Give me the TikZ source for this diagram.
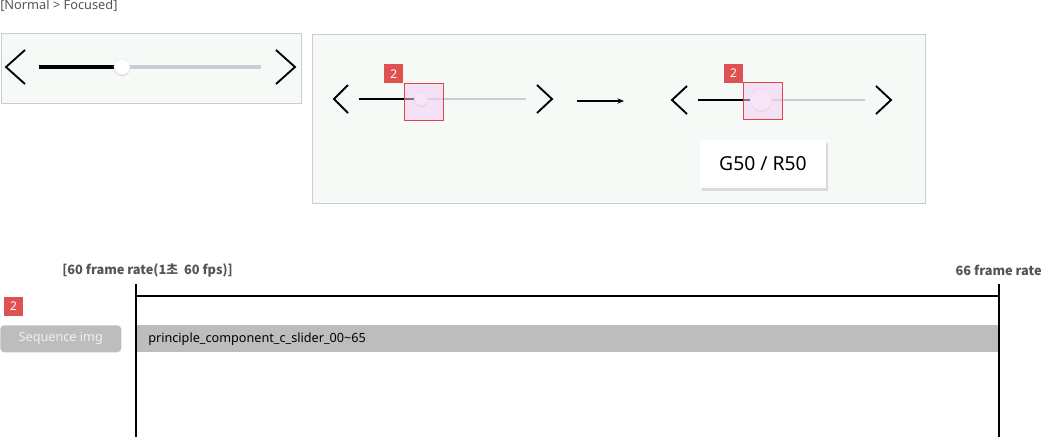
\documentclass[tikz,border=0pt]{standalone}
\usepackage{fontspec}
\setmainfont{Noto Sans}
\newfontfamily\krfont{Noto Sans CJK KR}
\usetikzlibrary{shadows,arrows.meta}
\definecolor{panelfill}{HTML}{F6FAF6}
\definecolor{panelline}{HTML}{CCCCCC}
\definecolor{badgered}{HTML}{E05252}
\definecolor{focusred}{HTML}{E0444C}
\definecolor{focusfill}{HTML}{F3CDF3}
\definecolor{trackgray}{HTML}{C6CED8}
\definecolor{bargray}{HTML}{BDBDBD}
\definecolor{labelgray}{HTML}{555555}
\tikzset{
  panel/.style={draw=panelline, fill=panelfill, line width=0.75pt},
  chev/.style={line width=1.4pt, black, line join=miter},
  trackon/.style={line width=2.2pt, black},
  trackoff/.style={line width=2.2pt, trackgray},
  knob/.style={fill=white, draw=black!8, line width=0.4pt, drop shadow={shadow xshift=0pt, shadow yshift=-0.8pt, opacity=0.3, fill=black!60}},
  focusbox/.style={draw=focusred, fill=focusfill, fill opacity=0.55, line width=0.75pt},
  badge/.style={fill=badgered, text=white, font=\fontsize{9}{10}\selectfont, inner sep=0pt, minimum width=14pt, minimum height=14pt},
  bartext/.style={font=\fontsize{9.5}{11}\selectfont},
  hdr/.style={font=\krfont\fontsize{9.6}{10}\selectfont\bfseries, text=labelgray, inner sep=0pt},
}
\begin{document}
\begin{tikzpicture}[x=0.75pt,y=-0.75pt]
\useasboundingbox (0,0) rectangle (1043,437);
% title
\node[anchor=west, inner sep=0pt, text=labelgray, font=\fontsize{9.6}{10}\selectfont] (title) at (0,6) {[Normal > Focused]};
% panel 1
\draw[panel] (1,33) rectangle (301,103);
\draw[chev] (25,50) -- (6,67) -- (25,84);
\draw[chev] (276,50) -- (295,67) -- (276,84);
\draw[trackoff, line width=2.4pt] (128,67) -- (261,67);
\draw[trackon, line width=2.6pt] (39,67) -- (116,67);
\node[knob, circle, minimum size=12pt, inner sep=0pt] (k1) at (122,67) {};
% panel 2
\draw[panel] (312,34) rectangle (925,203);
% slider A
\draw[chev] (348,85) -- (334,99) -- (348,113);
\draw[chev] (537,85) -- (552,99) -- (537,113);
\draw[trackoff] (426,99) -- (526,99);
\draw[trackon] (359,99) -- (416,99);
\node[knob, circle, minimum size=10pt, inner sep=0pt] (kA) at (421,99) {};
\draw[focusbox] (404,83) rectangle (443,120);
\node[badge, minimum width=14.25pt, minimum height=14.25pt, anchor=north west] (bA) at (384,64) {2};
% arrow
\coordinate (arS) at (577,101);
\coordinate (arE) at (624,101);
\draw[-{Stealth[length=5pt,width=4pt]}, line width=0.8pt] (arS) -- (arE);
% slider B
\draw[chev] (687,86) -- (672,100) -- (687,114);
\draw[chev] (876,86) -- (891,100) -- (876,114);
\draw[trackoff] (770,100) -- (865,100);
\draw[trackon] (698,100) -- (750,100);
\node[knob, circle, minimum size=16pt, inner sep=0pt] (kB) at (761,100) {};
\draw[focusbox] (743,82) rectangle (782,119);
\node[badge, anchor=north west] (bB) at (724,64) {2};
% tooltip
\node[fill=white, minimum width=94.5pt, minimum height=36pt, inner sep=0pt,
      drop shadow={shadow xshift=1.2pt, shadow yshift=-2pt, opacity=0.25, fill=black!50},
      font=\fontsize{14.5}{16}\selectfont] (tip) at (763,164) {G50 / R50};
% bottom timeline
\node[hdr, anchor=west] (h1) at (62,270) {[60 frame rate(1초\ \ 60 fps)]};
\node[hdr, anchor=east] (h2) at (1042,270) {66 frame rate};
\node[badge, anchor=north west] (b3) at (4,297) {2};
\node[fill=bargray, rounded corners=3pt, minimum width=90.75pt, minimum height=20.25pt, inner sep=0pt, anchor=north west,
      text=white!94!black, font=\fontsize{9.5}{11}\selectfont] (seq) at (0,325) {Sequence img};
\fill[bargray] (136,325) rectangle (999,352);
\node[bartext, anchor=west, inner sep=0pt] (bar) at (148,339) {principle\_component\_c\_slider\_00\textasciitilde 65};
\coordinate (lt) at (136,284);
\coordinate (lb) at (136,437);
\coordinate (rt) at (999,284);
\coordinate (rb) at (999,437);
\coordinate (hl) at (136,296);
\coordinate (hr) at (999,296);
\draw[line width=0.8pt] (lt) -- (lb);
\draw[line width=0.8pt] (rt) -- (rb);
\draw[line width=0.8pt] (hl) -- (hr);
\end{tikzpicture}
\end{document}
